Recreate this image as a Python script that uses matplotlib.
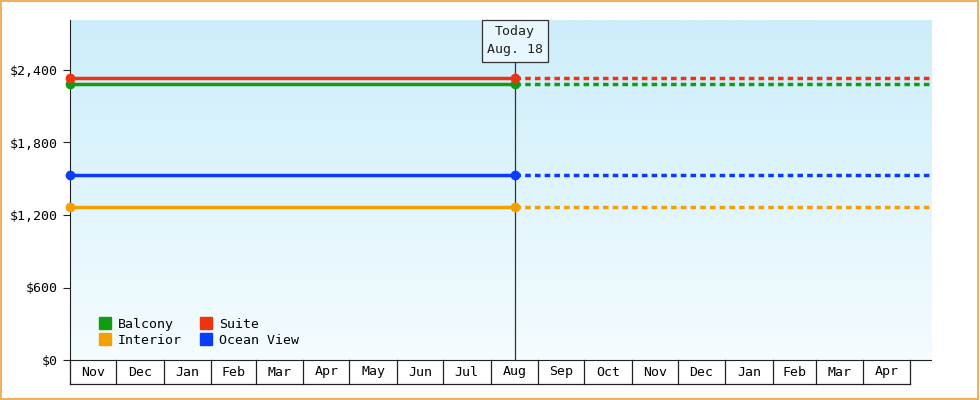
import matplotlib
matplotlib.use("Agg")
import matplotlib.pyplot as plt
import numpy as np
import datetime as dt
from matplotlib.patches import Rectangle
from matplotlib.lines import Line2D

series = ["Balcony", "Suite", "Interior", "Ocean View"]
values = [2280, 2335, 1265, 1530]
colors = ["#129c12", "#ee3311", "#f5a000", "#0a3cff"]
month_labels = ["Nov","Dec","Jan","Feb","Mar","Apr","May","Jun","Jul","Aug","Sep","Oct",
                "Nov","Dec","Jan","Feb","Mar","Apr"]
start = dt.date(2023, 11, 1)
today = dt.date(2024, 8, 17)
end = dt.date(2025, 5, 15)

def d(x): return (x - start).days

months = []
y, m = 2023, 11
for _ in range(19):
    months.append(dt.date(y, m, 1))
    m += 1
    if m > 12: m = 1; y += 1

plt.rcParams['font.family'] = ['DejaVu Sans Mono']
fs = 9.5
fig = plt.figure(figsize=(9.8, 4.0), dpi=100)
fig.patches.append(Rectangle((0.001, 0.002), 0.997, 0.995, transform=fig.transFigure,
                             fill=False, edgecolor="#f0a040", lw=1.2))
ax = fig.add_axes([70/980, 40/400, 861/980, 340/400])
ymax = 2400 + 50 * 2400 / 290
ax.set_xlim(0, d(end)); ax.set_ylim(0, ymax)
grad = np.linspace(1, 0, 256).reshape(-1, 1)
top = np.array([0.80, 0.93, 0.98]); bot = np.array([0.96, 0.99, 1.0])
img = bot + (top - bot) * grad[..., None]
ax.imshow(img, extent=[0, d(end), 0, ymax], aspect='auto', zorder=0)

t = d(today)
for v, c in zip(values, colors):
    ax.plot([0, t], [v, v], color=c, lw=2.5, zorder=3, solid_capstyle='butt')
    ax.plot([t, d(end)], [v, v], color=c, lw=2.5, ls=(0, (1.6, 1.2)), zorder=3)
    ax.plot([0, t], [v, v], 'o', color=c, ms=6, zorder=4, clip_on=False)

ax.plot([t, t], [0, ymax - 40 * 2400 / 290], color="#333333", lw=0.9, zorder=2)
ax.text(t, ymax - 21 * 2400 / 290, "Today\nAug. 18", ha='center', va='center', fontsize=fs,
        color="#222222", linespacing=1.5,
        bbox=dict(boxstyle='square,pad=0.4', fc='#e6f7fd', ec='#333333', lw=0.9), zorder=5)

ax.set_yticks([0, 600, 1200, 1800, 2400])
ax.set_yticklabels(["$0", "$600", "$1,200", "$1,800", "$2,400"], fontsize=fs)
ax.set_xticks([])
for s in ["top", "right"]:
    ax.spines[s].set_visible(False)
ax.spines['left'].set_color('#222222'); ax.spines['bottom'].set_color('#222222')
ax.tick_params(axis='y', length=5, color='#222222')

trans = ax.get_xaxis_transform()
yb = -24 / 340
for i, lab in enumerate(month_labels):
    x0, x1 = d(months[i]), d(months[i + 1])
    ax.plot([x0, x0], [0, yb], transform=trans, color='#222222', lw=0.9, clip_on=False)
    ax.text((x0 + x1) / 2, yb / 2, lab, transform=trans, ha='center', va='center', fontsize=fs)
xl = d(months[-1])
ax.plot([xl, xl], [0, yb], transform=trans, color='#222222', lw=0.9, clip_on=False)
ax.plot([0, xl], [yb, yb], transform=trans, color='#222222', lw=0.9, clip_on=False)

order = [0, 2, 1, 3]
handles = [Line2D([], [], marker='s', ls='', color=colors[i], ms=9) for i in order]
ax.legend(handles, [series[i] for i in order], ncol=2, loc='lower left', frameon=False,
          fontsize=fs, handletextpad=0.0, columnspacing=0.8, labelspacing=0.25,
          borderaxespad=0.6, bbox_to_anchor=(0.01, 0.0))
fig.savefig("out.png", dpi=100)
